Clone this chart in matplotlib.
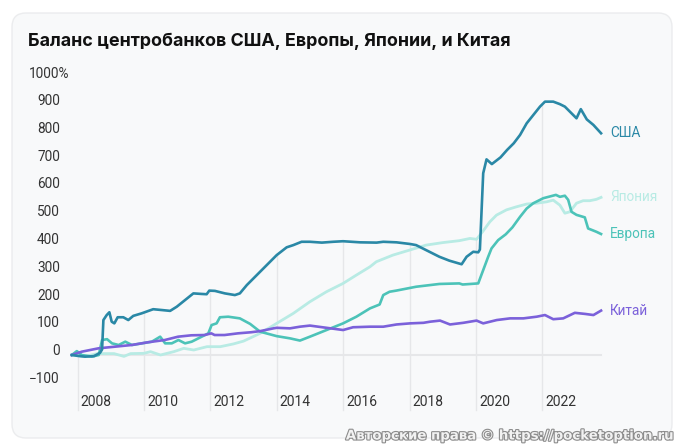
import matplotlib
matplotlib.use("Agg")
import matplotlib.pyplot as plt
import matplotlib.patheffects as pe
from matplotlib.patches import FancyBboxPatch
from matplotlib.transforms import offset_copy
import numpy as np

# data - decimal years and balance growth, %
us_t = [2007.83, 2008.0, 2008.23, 2008.5, 2008.68, 2008.74, 2008.78, 2008.88, 2008.96, 2009.03,
        2009.11, 2009.21, 2009.38, 2009.53, 2009.68, 2009.93, 2010.28, 2010.54, 2010.79, 2010.99,
        2011.24, 2011.49, 2011.74, 2011.89, 2011.97, 2012.14, 2012.44, 2012.74, 2012.89, 2013.10,
        2013.30, 2013.60, 2014.0, 2014.30, 2014.50, 2014.75, 2015.0, 2015.36, 2015.70, 2016.0,
        2016.51, 2017.01, 2017.21, 2017.61, 2018.02, 2018.2, 2018.5, 2018.9, 2019.2, 2019.57,
        2019.72, 2019.92, 2020.07, 2020.12, 2020.22, 2020.32, 2020.48, 2020.74, 2020.94, 2021.14,
        2021.33, 2021.53, 2021.73, 2021.93, 2022.08, 2022.33, 2022.53, 2022.68, 2022.83, 2023.03,
        2023.16, 2023.34, 2023.54, 2023.77]
us_v = [0, -3, -6, -4, 8, 20, 126, 144, 154, 120,
        114, 136, 136, 126, 141, 150, 165, 162, 159, 174,
        198, 222, 220, 219, 232, 231, 222, 216, 222, 252,
        276, 312, 360, 388, 396, 408, 408, 405, 408, 410,
        406, 405, 408, 406, 400, 396, 378, 354, 340, 327,
        354, 372, 370, 380, 655, 705, 688, 712, 739, 763,
        793, 835, 865, 895, 913, 913, 904, 895, 877, 853,
        886, 849, 829, 799]

eu_t = [2007.83, 2007.98, 2008.13, 2008.43, 2008.64, 2008.74, 2008.89, 2009.04, 2009.24, 2009.44,
        2009.64, 2009.94, 2010.24, 2010.49, 2010.64, 2010.84, 2011.04, 2011.24, 2011.44, 2011.64,
        2011.94, 2012.04, 2012.19, 2012.29, 2012.54, 2012.89, 2013.2, 2013.5, 2014.0, 2014.4,
        2014.7, 2015.0, 2015.5, 2016.0, 2016.4, 2016.81, 2017.1, 2017.21, 2017.4, 2017.6,
        2018.2, 2018.9, 2019.5, 2019.6, 2020.07, 2020.22, 2020.37, 2020.47, 2020.67, 2020.9,
        2021.1, 2021.33, 2021.53, 2021.73, 2022.03, 2022.41, 2022.53, 2022.68, 2022.78, 2022.88,
        2023.03, 2023.28, 2023.38, 2023.63, 2023.77]
eu_v = [0, 14, 0, -6, 0, 54, 57, 42, 36, 48,
        36, 42, 48, 66, 42, 42, 54, 42, 48, 60,
        78, 108, 114, 136, 138, 132, 112, 84, 68, 60,
        52, 66, 90, 114, 138, 168, 182, 216, 228, 232,
        246, 256, 258, 254, 258, 306, 354, 384, 414, 435,
        460, 498, 528, 547, 565, 577, 570, 574, 559, 516,
        505, 496, 456, 444, 436]

jp_t = [2007.83, 2008.2, 2008.6, 2009.1, 2009.4, 2009.6, 2010.0, 2010.2, 2010.5, 2010.9,
        2011.2, 2011.5, 2011.9, 2012.3, 2012.7, 2013.0, 2013.5, 2014.0, 2014.5, 2015.0,
        2015.5, 2016.0, 2016.4, 2016.81, 2017.0, 2017.5, 2018.0, 2018.5, 2019.0, 2019.5,
        2019.82, 2020.02, 2020.2, 2020.42, 2020.62, 2020.92, 2021.22, 2021.53, 2021.83, 2022.13,
        2022.33, 2022.53, 2022.68, 2022.83, 2023.03, 2023.23, 2023.43, 2023.63, 2023.77]
jp_v = [0, -6, 5, 5, -5, 5, 6, 12, 0, 12,
        24, 18, 30, 30, 40, 50, 78, 114, 150, 192,
        228, 258, 288, 318, 336, 360, 378, 396, 405, 412,
        420, 417, 444, 480, 504, 523, 534, 544, 547, 552,
        558, 540, 511, 516, 547, 556, 556, 561, 568]

cn_t = [2007.83, 2008.13, 2008.63, 2009.13, 2009.63, 2010.13, 2010.63, 2011.03, 2011.43, 2011.83,
        2012.03, 2012.13, 2012.43, 2012.63, 2012.83, 2013.23, 2013.5, 2013.9, 2014.0, 2014.4,
        2014.7, 2015.0, 2015.5, 2016.0, 2016.3, 2016.81, 2017.21, 2017.61, 2018.02, 2018.42,
        2018.62, 2018.92, 2019.22, 2019.62, 2020.02, 2020.22, 2020.63, 2021.03, 2021.43, 2021.83,
        2022.08, 2022.33, 2022.63, 2022.98, 2023.29, 2023.54, 2023.77]
cn_v = [0, 12, 24, 30, 36, 46, 54, 66, 71, 72,
        78, 72, 72, 75, 78, 82, 86, 96, 98, 96,
        102, 106, 98, 90, 100, 102, 102, 110, 114, 116,
        120, 124, 110, 116, 124, 114, 126, 132, 132, 138,
        144, 129, 132, 152, 148, 144, 160]

series_names = ["США", "Япония", "Европа", "Китай"]
y_ticks = [1000, 900, 800, 700, 600, 500, 400, 300, 200, 100, 0, -100]
x_ticks = [2008, 2010, 2012, 2014, 2016, 2018, 2020, 2022]

title = "Баланс центробанков США, Европы, Японии, и Китая"
watermark = "Авторские права © https://pocketoption.ru"

# colors
c_us = "#2a88a6"
c_eu = "#4cc3b8"
c_jp = "#b8ebe4"
c_cn = "#7b61da"
c_text = "#333333"

# figure
W, H = 681, 445
fig = plt.figure(figsize=(W / 100, H / 100), dpi=100)
fig.patch.set_facecolor("white")

# background axes in pixel coords
bg = fig.add_axes([0, 0, 1, 1])
bg.set_xlim(0, W)
bg.set_ylim(H, 0)
bg.axis("off")
card = FancyBboxPatch((12, 13), 660, 425, boxstyle="round,pad=0,rounding_size=14",
                      facecolor="#f8f9fa", edgecolor="#ebecee", linewidth=1)
bg.add_patch(card)
bg.text(28, 41, title, fontsize=12.9, fontweight="bold", family="Inter",
        color="#111111", ha="left", va="center")

# data axes, scale: 33.2 px per year, 0.2775 px per %
ax = fig.add_axes([0, 0, 1, 1], facecolor="none")
px_year = 33.2
px_val = 0.2775
ax.set_xlim(2008 - 77.5 / px_year, 2008 + (W - 77.5) / px_year)
ax.set_ylim((355 - H) / px_val, 355 / px_val)
ax.axis("off")

t_min = min(us_t)
t_max = max(us_t)
y_bottom = (355 - 410) / px_val

# vertical gridlines, up to the highest series
for xt in x_ticks:
    top = max(np.interp(xt, us_t, us_v), np.interp(xt, eu_t, eu_v),
              np.interp(xt, jp_t, jp_v), np.interp(xt, cn_t, cn_v))
    ax.plot([xt, xt], [y_bottom, top], color="#e6e7e9", lw=1, zorder=1)
    ax.text(xt, y_bottom, str(xt), fontsize=10, family="Roboto", color=c_text,
            ha="left", va="bottom",
            transform=offset_copy(ax.transData, fig=fig, x=3, y=1, units="dots"))

# zero line
ax.plot([t_min, t_max], [0, 0], color="#e6e7e9", lw=1.5, zorder=1)

# y tick labels
x_lab = 2008 + (60 - 77.5) / px_year
lab_tr = offset_copy(ax.transData, fig=fig, x=0, y=4, units="dots")
for yt in y_ticks[1:]:
    ax.text(x_lab, yt, "%d" % yt if yt >= 0 else "\u2212%d" % -yt, fontsize=9.8,
            family="Roboto", color=c_text, ha="right", va="center", transform=lab_tr)
ax.text(x_lab, y_ticks[0], "%d%%" % y_ticks[0], fontsize=9.8, family="Roboto", color=c_text,
        ha="right", va="center",
        transform=offset_copy(ax.transData, fig=fig, x=9, y=4, units="dots"))

# lines
ax.plot(jp_t, jp_v, color=c_jp, lw=2, zorder=3, solid_joinstyle="round")
ax.plot(eu_t, eu_v, color=c_eu, lw=1.9, zorder=4, solid_joinstyle="round")
ax.plot(cn_t, cn_v, color=c_cn, lw=1.9, zorder=5, solid_joinstyle="round")
ax.plot(us_t, us_v, color=c_us, lw=1.9, zorder=6, solid_joinstyle="round")

# end labels
ends = [(us_v[-1], c_us), (jp_v[-1], c_jp), (eu_v[-1], c_eu), (cn_v[-1], c_cn)]
end_tr = offset_copy(ax.transData, fig=fig, x=9, y=0, units="dots")
for name, (v, c) in zip(series_names, ends):
    ax.text(t_max, v, name, fontsize=9.8, family="Roboto", color=c,
            ha="left", va="center", transform=end_tr)

# watermark
bg.text(675, 436, watermark, fontsize=9.6, fontweight="bold", family="DejaVu Sans",
        color="#f2f2f2", ha="right", va="center",
        path_effects=[pe.withStroke(linewidth=1.6, foreground="#8c8c8c")])

fig.savefig("out.png", dpi=100, facecolor="white")
